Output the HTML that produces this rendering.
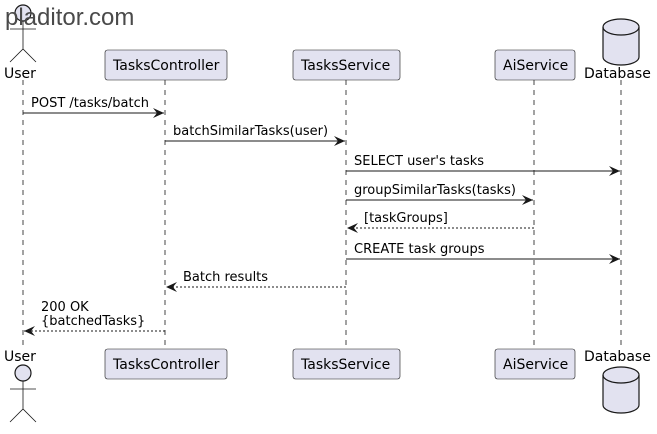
<!DOCTYPE html>
<html><head><style>body{margin:0;background:#fff}</style></head><body>
<svg width="657" height="429" xmlns="http://www.w3.org/2000/svg" font-family="'DejaVu Sans', sans-serif" font-size="14">
<defs>
<marker id="a" markerWidth="12" markerHeight="10" refX="11" refY="5" orient="auto" markerUnits="userSpaceOnUse"><path d="M0,0 L11,5 L0,10 L4,5 Z" fill="#181818"/></marker>
</defs>
<g stroke="#181818" stroke-width="0.8" stroke-dasharray="5,5">
<line x1="23" y1="80" x2="23" y2="349"/><line x1="165" y1="80" x2="165" y2="349"/><line x1="346" y1="80" x2="346" y2="349"/><line x1="534" y1="80" x2="534" y2="349"/><line x1="621" y1="80" x2="621" y2="349"/>
</g>
<g fill="#E2E2F0" stroke="#181818" stroke-width="0.6">
<rect x="105" y="50" width="122" height="30" rx="2.5"/><rect x="293" y="50" width="107" height="30" rx="2.5"/><rect x="495" y="50" width="80" height="30" rx="2.5"/>
<rect x="105" y="349" width="122" height="30" rx="2.5"/><rect x="293" y="349" width="107" height="30" rx="2.5"/><rect x="495" y="349" width="80" height="30" rx="2.5"/>
</g>
<g fill="#000"><text x="113" y="70">TasksController</text><text x="301" y="70">TasksService</text><text x="503" y="70">AiService</text>
<text x="113" y="369">TasksController</text><text x="301" y="369">TasksService</text><text x="503" y="369">AiService</text>
<text x="4" y="78">User</text><text x="584" y="78">Database</text><text x="4" y="361">User</text><text x="584" y="361">Database</text></g>
<g fill="#E2E2F0" stroke="#181818" stroke-width="1.2">
<circle cx="23" cy="13" r="8"/><circle cx="23" cy="373" r="8"/>
<path d="M603,27 a18,8 0 0,1 36,0 v30 a18,8 0 0,1 -36,0 Z"/><path d="M603,27 a18,8 0 0,0 36,0" fill="none"/>
<path d="M603,375 a18,8 0 0,1 36,0 v30 a18,8 0 0,1 -36,0 Z"/><path d="M603,375 a18,8 0 0,0 36,0" fill="none"/>
</g>
<g stroke="#181818" stroke-width="0.8" fill="none">
<path d="M23,21 V49 M10,29 H36 M10,62 L23,49 L36,62"/>
<path d="M23,381 V409 M10,389 H36 M10,422 L23,409 L36,422"/>
</g>
<text x="5" y="25" font-family="'Liberation Sans',sans-serif" font-size="24" fill="#4a4a4a">pladitor.com</text>
<g stroke="#181818" stroke-width="1" marker-end="url(#a)">
<line x1="23" y1="113" x2="164" y2="113"/>
<line x1="165" y1="141" x2="345" y2="141"/>
<line x1="346" y1="171" x2="620" y2="171"/>
<line x1="346" y1="200" x2="533" y2="200"/>
<line x1="534" y1="228" x2="347" y2="228" stroke-dasharray="2,2"/>
<line x1="346" y1="259" x2="620" y2="259"/>
<line x1="346" y1="287" x2="166" y2="287" stroke-dasharray="2,2"/>
<line x1="165" y1="331" x2="24" y2="331" stroke-dasharray="2,2"/>
</g>
<g fill="#000" font-size="13">
<text x="31" y="107">POST /tasks/batch</text>
<text x="173" y="135">batchSimilarTasks(user)</text>
<text x="354" y="165">SELECT user's tasks</text>
<text x="354" y="194">groupSimilarTasks(tasks)</text>
<text x="364" y="222">[taskGroups]</text>
<text x="354" y="253">CREATE task groups</text>
<text x="183" y="281">Batch results</text>
<text x="41" y="311">200 OK</text>
<text x="41" y="325">{batchedTasks}</text>
</g>
</svg>
</body></html>
